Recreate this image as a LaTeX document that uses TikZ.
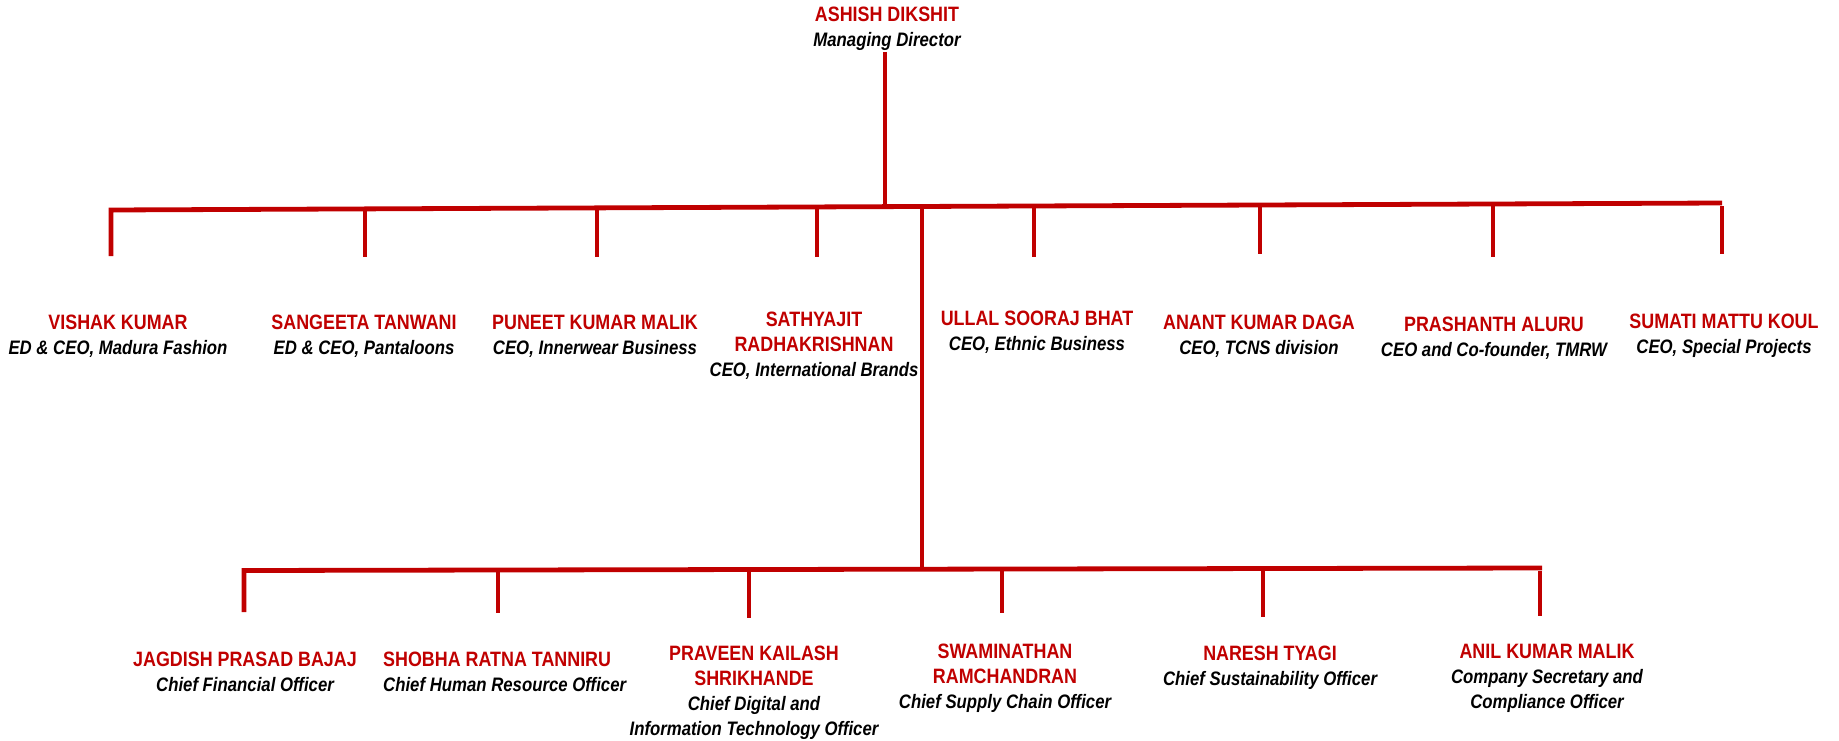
\documentclass[tikz,border=0pt]{standalone}
\usepackage{fontspec}
\setmainfont{Liberation Sans}[FakeStretch=0.86]
\definecolor{cred}{HTML}{C00000}
\newcommand{\nm}[1]{{\color{cred}\bfseries\fontsize{20.8}{25}\selectfont #1}}
\newcommand{\ttl}[1]{{\bfseries\itshape\fontsize{19.5}{25}\selectfont #1}}
\tikzset{
  person/.style={align=center, inner sep=0pt, font=\fontsize{19}{25}\selectfont},
  link/.style={draw=cred, line width=4.8pt},
}
\begin{document}
\begin{tikzpicture}[x=1pt,y=-1pt]
\useasboundingbox (0,0) rectangle (1839,741);
% top
\node[person] (md) at (887,29) {\nm{ASHISH DIKSHIT}\\\ttl{Managing Director}};
% row 1
\node[person] (p1) at (118,336) {\nm{VISHAK KUMAR}\\\ttl{ED \& CEO, Madura Fashion}};
\node[person] (p2) at (364,336) {\nm{SANGEETA TANWANI}\\\ttl{ED \& CEO, Pantaloons}};
\node[person] (p3) at (595,336) {\nm{PUNEET KUMAR MALIK}\\\ttl{CEO, Innerwear Business}};
\node[person] (p4) at (814,346) {\nm{SATHYAJIT}\\\nm{RADHAKRISHNAN}\\\ttl{CEO, International Brands}};
\node[person] (p5) at (1037,332) {\nm{ULLAL SOORAJ BHAT}\\\ttl{CEO, Ethnic Business}};
\node[person] (p6) at (1259,336) {\nm{ANANT KUMAR DAGA}\\\ttl{CEO, TCNS division}};
\node[person] (p7) at (1494,338) {\nm{PRASHANTH ALURU}\\\ttl{CEO and Co-founder, TMRW}};
\node[person] (p8) at (1724,336) {\nm{SUMATI MATTU KOUL}\\\ttl{CEO, Special Projects}};
% row 2
\node[person] (q1) at (245,672) {\nm{JAGDISH PRASAD BAJAJ}\\\ttl{Chief Financial Officer}};
\node[person, align=left, anchor=west] (q2) at (383,672) {\nm{SHOBHA RATNA TANNIRU}\\\ttl{Chief Human Resource Officer}};
\node[person] (q3) at (754,693) {\nm{PRAVEEN KAILASH}\\\nm{SHRIKHANDE}\\\ttl{Chief Digital and}\\\ttl{Information Technology Officer}};
\node[person] (q4) at (1005,678) {\nm{SWAMINATHAN}\\\nm{RAMCHANDRAN}\\\ttl{Chief Supply Chain Officer}};
\node[person] (q5) at (1270,668) {\nm{NARESH TYAGI}\\\ttl{Chief Sustainability Officer}};
\node[person] (q6) at (1547,678) {\nm{ANIL KUMAR MALIK}\\\ttl{Company Secretary and}\\\ttl{Compliance Officer}};
% junction coordinates
\coordinate (mdb) at (885,52);
\coordinate (mdj) at (885,206.6);
\coordinate (L1) at (111,210);
\coordinate (R1) at (1722,203);
\coordinate (c0) at (922,206.5);
\coordinate (c1) at (922,570);
\coordinate (L2) at (244,570.5);
\coordinate (R2) at (1542,568);
% top row drop ends
\coordinate (a1) at (111,256);
\coordinate (t2) at (365,209); \coordinate (a2) at (365,257);
\coordinate (t3) at (597,208); \coordinate (a3) at (597,257);
\coordinate (t4) at (817,207); \coordinate (a4) at (817,257);
\coordinate (t5) at (1034,206); \coordinate (a5) at (1034,257);
\coordinate (t6) at (1260,205); \coordinate (a6) at (1260,254);
\coordinate (t7) at (1493,204); \coordinate (a7) at (1493,257);
\coordinate (t8) at (1722,206); \coordinate (a8) at (1722,254);
% bottom row
\coordinate (b1) at (244,612);
\coordinate (s2) at (498,570); \coordinate (b2) at (498,613);
\coordinate (s3) at (749,570); \coordinate (b3) at (749,618);
\coordinate (s4) at (1002,569); \coordinate (b4) at (1002,613);
\coordinate (s5) at (1263,569); \coordinate (b5) at (1263,617);
\coordinate (s6) at (1540,571); \coordinate (b6) at (1540,616);
% lines
\draw[link] (mdb) -- (mdj);
\draw[link] (a1) -- (L1) -- (R1);
\foreach \i in {2,...,8} {\draw[link] (t\i) -- (a\i);}
\draw[link] (c0) -- (c1);
\draw[link] (b1) -- (L2) -- (R2);
\foreach \i in {2,...,6} {\draw[link] (s\i) -- (b\i);}
\end{tikzpicture}
\end{document}
